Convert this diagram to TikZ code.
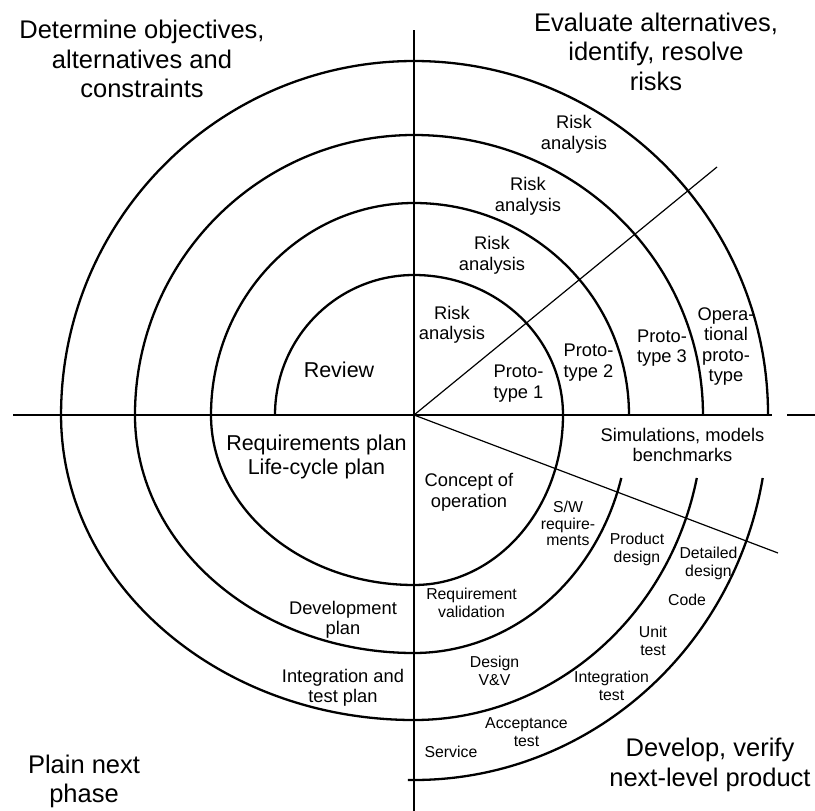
\documentclass[tikz,border=0pt]{standalone}
\usepackage{fontspec}
\setmainfont{Liberation Sans}
\begin{document}
\begin{tikzpicture}[x=1pt,y=-1pt,
  axis/.style={line width=2pt},
  spiral/.style={line width=2.3pt},
  ray/.style={line width=1.2pt},
  corner/.style={align=center,inner sep=0pt,font=\fontsize{25.5}{29.5}\selectfont},
  big/.style={align=center,inner sep=0pt,font=\fontsize{21.5}{24}\selectfont},
  mid/.style={align=center,inner sep=0pt,font=\fontsize{18.3}{20.5}\selectfont},
  small/.style={align=center,inner sep=0pt,font=\fontsize{15.8}{18}\selectfont}]
\useasboundingbox (0,0) rectangle (815,811);

% centre of the spiral and the end points of axes and rays
\coordinate (O) at (414,415);
\coordinate (vtop) at (414,30);
\coordinate (vbot) at (414,811);
\coordinate (hleft) at (13,415);
\coordinate (hgapa) at (772,415);
\coordinate (hgapb) at (787,415);
\coordinate (hright) at (815,415);
\coordinate (rayup) at (717,167);
\coordinate (raydown) at (778,553);

% axes
\draw[axis] (vtop) -- (vbot);
\draw[axis] (hleft) -- (hgapa);
\draw[axis] (hgapb) -- (hright);

% rays from the centre
\draw[ray] (O) -- (rayup);
\draw[ray] (O) -- (raydown);

% the spiral, built from quarter ellipses around the centre
\draw[spiral] (275,415)
  arc[start angle=180, end angle=270, x radius=139, y radius=140]
  arc[start angle=270, end angle=360, x radius=149, y radius=140]
  arc[start angle=0,   end angle=90,  x radius=149, y radius=170]
  arc[start angle=90,  end angle=180, x radius=203, y radius=170]
  arc[start angle=180, end angle=270, x radius=203, y radius=212]
  arc[start angle=270, end angle=360, x radius=215, y radius=212];
\draw[spiral] (621.3,478)
  arc[start angle=15.35, end angle=90, x radius=215, y radius=238]
  arc[start angle=90,  end angle=180, x radius=279, y radius=238]
  arc[start angle=180, end angle=270, x radius=279, y radius=280]
  arc[start angle=270, end angle=360, x radius=289, y radius=280];
\draw[spiral] (696.8,478)
  arc[start angle=11.92, end angle=90, x radius=289, y radius=305]
  arc[start angle=90,  end angle=180, x radius=353, y radius=305]
  arc[start angle=180, end angle=270, x radius=353, y radius=354]
  arc[start angle=270, end angle=360, x radius=354, y radius=354];
\draw[spiral] (762.7,478)
  arc[start angle=9.94, end angle=91, x radius=354, y radius=365];

% quadrant titles
\node[corner] (tl) at (142,59) {Determine objectives,\\alternatives and\\constraints};
\node[corner] (tr) at (656,51.5) {Evaluate alternatives,\\identify, resolve\\risks};
\node[corner] (bl) at (84,781.5) {Plain next\\phase};
\node[corner] (br) at (710,765) {Develop, verify\\next-level product};

% upper left
\node[big] (review) at (339,370) {Review};

% upper right
\node[mid] (risk1) at (452,325) {Risk\\analysis};
\node[mid] (risk2) at (492,255.5) {Risk\\analysis};
\node[mid] (risk3) at (528,196.5) {Risk\\analysis};
\node[mid] (risk4) at (574,134.5) {Risk\\analysis};
\node[mid] (proto1) at (518.5,383.5) {Proto-\\type 1};
\node[mid] (proto2) at (588.5,362.5) {Proto-\\type 2};
\node[mid] (proto3) at (662,348) {Proto-\\type 3};
\node[mid] (oper) at (726,346.5) {Opera-\\tional\\proto-\\type};

% lower left
\node[big] (reqplan) at (316.5,457) {Requirements plan\\Life-cycle plan};
\node[mid] (devplan) at (343,620) {Development\\plan};
\node[mid] (intplan) at (343,688) {Integration and\\test plan};

% lower right
\node[mid] (sims) at (682.5,445) {Simulations, models\\benchmarks};
\node[mid] (concept) at (469,492.5) {Concept of\\operation};
\node[small,font=\fontsize{15.8}{16.5}\selectfont] (swreq) at (568,523.5) {S/W\\require-\\ments};
\node[small] (proddes) at (637,549) {Product\\design};
\node[small] (detdes) at (708.5,563) {Detailed\\design};
\node[small] (code) at (687,600) {Code};
\node[small] (unit) at (653,641) {Unit\\test};
\node[small] (inttest) at (611.5,685.5) {Integration\\test};
\node[small] (reqval) at (471.5,603) {Requirement\\validation};
\node[small] (design) at (494.5,670.5) {Design\\V\&V};
\node[small] (accept) at (526.5,732) {Acceptance\\test};
\node[small] (service) at (451,752) {Service};
\end{tikzpicture}
\end{document}
